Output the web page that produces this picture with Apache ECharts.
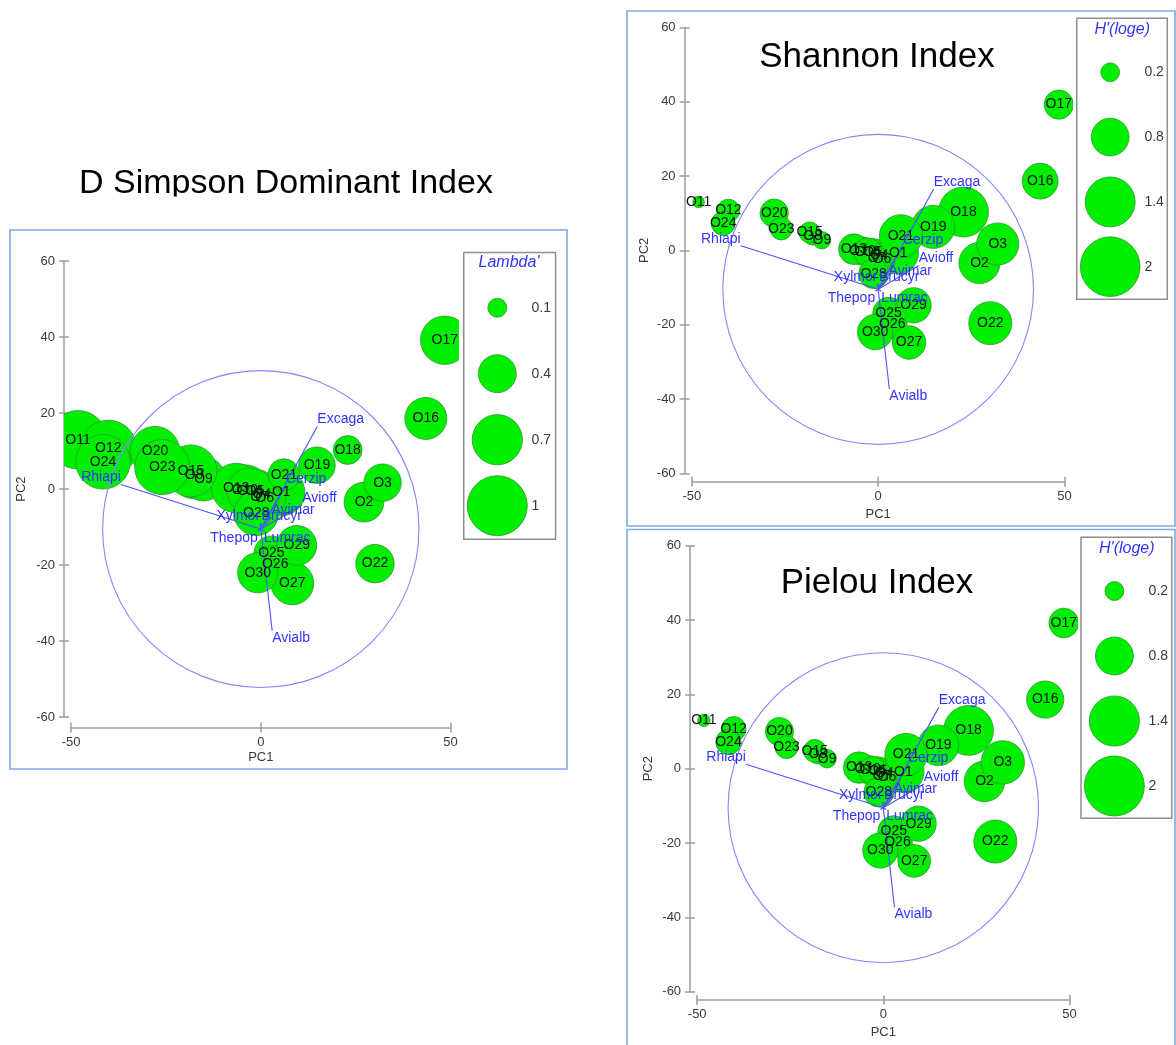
<!DOCTYPE html>
<html>
<head>
<meta charset="utf-8">
<script src="https://cdn.jsdelivr.net/npm/echarts@6/dist/echarts.min.js"></script>
<style>
  html, body { margin: 0; padding: 0; background: #ffffff; }
  #chart { width: 1176px; height: 1045px; }
</style>
</head>
<body>
<div id="chart"></div>
<script>
// ---- PCA sample scores (PC1, PC2) ----
const sampleNames = ['O1','O2','O3','O4','O5','O6','O7','O8','O9','O10',
                     'O11','O12','O13','O14','O15','O16','O17','O18','O19','O20',
                     'O21','O22','O23','O24','O25','O26','O27','O28','O29','O30'];
const pc1 = [5.4, 27.2, 32.1, 0.3, -1.5, 1.0, -0.3, -17.6, -15.1, -4.2,
             -48.2, -40.2, -6.5, -2.8, -18.4, 43.5, 48.5, 22.9, 14.8, -27.9,
             6.1, 30.1, -26.0, -41.6, 2.8, 3.8, 8.3, -1.2, 9.5, -0.8];
const pc2 = [-0.8, -3.4, 1.7, -1.2, -0.6, -2.4, -2.0, 3.8, 2.7, -0.2,
             13.0, 10.7, 0.3, -0.5, 4.8, 18.6, 39.2, 10.3, 6.3, 10.0,
             3.8, -19.6, 5.8, 7.2, -16.9, -19.8, -24.8, -6.3, -14.8, -22.0];

// ---- diversity indices per sample ----
const simpsonLambda = [0.62, 0.44, 0.39, 0.50, 0.55, 0.50, 0.45, 0.64, 0.54, 0.70,
                       0.95, 0.89, 0.68, 0.60, 0.75, 0.49, 0.65, 0.23, 0.37, 0.68,
                       0.28, 0.41, 0.84, 0.83, 0.34, 0.38, 0.51, 0.56, 0.44, 0.45];
const shannonH = [0.92, 0.95, 1.00, 0.50, 0.45, 0.40, 0.50, 0.18, 0.17, 0.45,
                  0.076, 0.29, 0.53, 0.45, 0.25, 0.72, 0.48, 1.40, 1.04, 0.45,
                  1.04, 1.04, 0.28, 0.32, 0.56, 0.50, 0.63, 0.50, 0.70, 0.70];
const pielouJ = [0.95, 0.92, 1.05, 0.50, 0.45, 0.40, 0.50, 0.20, 0.19, 0.45,
                 0.085, 0.34, 0.55, 0.45, 0.29, 0.77, 0.49, 1.38, 0.92, 0.44,
                 1.00, 1.03, 0.29, 0.36, 0.56, 0.50, 0.60, 0.50, 0.69, 0.69];

// ---- species vectors (end points) ----
const speciesNames = ['Rhiapi','Excaga','Avialb','Cerzip','Avioff','Avimar','Xylmor','Brucyr','Thepop','Lumrac'];
const speciesEndX = [-36.9, 14.9, 3.0, 6.6, 10.9, 2.8, -0.2, 0.2, -0.8, 0.8];
const speciesEndY = [1.2, 16.5, -37.3, 0.9, -4.1, -7.4, -9.0, -9.0, -11.0, -11.0];
const vectorOrigin = [0, -10.5];
const circleRadius = 41.7;

// ---- axis ticks ----
const xTickMin = -50, xTickMax = 50, xTickStep = 50;
const yTickMin = -60, yTickMax = 60, yTickStep = 20;

// ---- bubble legends ----
const simpsonLegend = [0.1, 0.4, 0.7, 1];
const diversityLegend = [0.2, 0.8, 1.4, 2];

const FONT = '"Liberation Sans", Arial, Helvetica, sans-serif';
const AXIS_GREY = '#9d9d9d';
const TEXT_GREY = '#3a3a3a';
const BLUE_TEXT = '#3333ff';

const panels = [
  { title: 'D Simpson Dominant Index', titleX: 286, titleY: 184, titleSize: 34,
    values: simpsonLambda, legendTitle: "Lambda'", legendValues: simpsonLegend, k: 30,
    X0: 260.8, Y0: 489.15, U: 3.793, V: 3.80, offY: 7.1, offX: 10.4, nameGapX: 23, nameGapY: 36,
    box: [10, 230, 557, 539],
    legendBox: [463.7, 252.5, 91.9, 286.8], legendTitleX: 509, legendTitleY: 263,
    legendBubbleX: 497.3, legendLabelX: 531.6, legendRow0: 307.7, legendStep: 66 },
  { title: 'Shannon Index', titleX: 877, titleY: 57, titleSize: 35,
    values: shannonH, legendTitle: "H'(loge)", legendValues: diversityLegend, k: 21.1,
    X0: 878.15, Y0: 250.3, U: 3.725, V: 3.717, offY: 7.3, offX: 8.4, nameGapX: 26, nameGapY: 34,
    box: [627, 11, 548, 515],
    legendBox: [1076.8, 18.3, 90.5, 281], legendTitleX: 1122.2, legendTitleY: 29.5,
    legendBubbleX: 1110.2, legendLabelX: 1144.4, legendRow0: 72.3, legendStep: 64.8 },
  { title: 'Pielou Index', titleX: 877, titleY: 583, titleSize: 35,
    values: pielouJ, legendTitle: "H'(loge)", legendValues: diversityLegend, k: 21.2,
    X0: 883.3, Y0: 768.7, U: 3.722, V: 3.717, offY: 7.1, offX: 8.3, nameGapX: 26, nameGapY: 35,
    box: [627, 529.5, 548, 520],
    legendBox: [1081, 537.3, 90.8, 281], legendTitleX: 1126.8, legendTitleY: 548.5,
    legendBubbleX: 1114.4, legendLabelX: 1148.6, legendRow0: 591, legendStep: 65 }
];

const grid = [], xAxis = [], yAxis = [], series = [], graphics = [];

function textStyle(text, font, fill, align, vAlign) {
  return { text: text, font: font, fill: fill,
           align: align, verticalAlign: vAlign,
           textAlign: align, textVerticalAlign: vAlign };
}

panels.forEach(function (p, pi) {
  const xr = 50 + p.offY / p.U;   // data-grid half width (to the y axis line)
  const yr = 60 + p.offX / p.V;   // data-grid half height (to the x axis line)
  const g = grid.length;

  // plotting area (clip region), tick area, legend area
  grid.push({ left: p.X0 - xr * p.U, top: p.Y0 - yr * p.V, width: 2 * xr * p.U, height: 2 * yr * p.V });
  grid.push({ left: p.X0 - 50 * p.U, top: p.Y0 - 60 * p.V, width: 100 * p.U, height: 120 * p.V });
  grid.push({ left: p.legendBubbleX, top: p.legendRow0 - p.legendStep / 2,
              width: p.legendLabelX - p.legendBubbleX, height: p.legendStep * p.legendValues.length });

  const ax = xAxis.length, ay = yAxis.length;
  const lineStyle = { color: AXIS_GREY, width: 1.5 };
  const labelStyle = { color: TEXT_GREY, fontSize: 13, fontFamily: FONT };

  // data axes (hidden)
  xAxis.push({ gridIndex: g, type: 'value', min: -xr, max: xr, show: false });
  yAxis.push({ gridIndex: g, type: 'value', min: -yr, max: yr, show: false });

  // visible axes
  xAxis.push({ gridIndex: g + 1, type: 'value', min: xTickMin, max: xTickMax, interval: xTickStep,
    position: 'bottom', offset: p.offX,
    axisLine: { show: true, onZero: false, lineStyle: lineStyle },
    axisTick: { show: true, length: 5, lineStyle: lineStyle },
    axisLabel: Object.assign({ margin: 8 }, labelStyle),
    splitLine: { show: false },
    name: 'PC1', nameLocation: 'middle', nameGap: p.nameGapX,
    nameTextStyle: { color: TEXT_GREY, fontSize: 13, fontFamily: FONT } });
  yAxis.push({ gridIndex: g + 1, type: 'value', min: yTickMin, max: yTickMax, interval: yTickStep,
    position: 'left', offset: p.offY,
    axisLine: { show: true, onZero: false, lineStyle: lineStyle },
    axisTick: { show: true, length: 5, lineStyle: lineStyle },
    axisLabel: Object.assign({ margin: 9 }, labelStyle),
    splitLine: { show: false },
    name: 'PC2', nameLocation: 'middle', nameGap: p.nameGapY, nameRotate: 90,
    nameTextStyle: { color: TEXT_GREY, fontSize: 13, fontFamily: FONT } });

  // inward half of the crossing ticks
  xAxis.push({ gridIndex: g + 1, type: 'value', min: xTickMin, max: xTickMax, interval: xTickStep,
    position: 'bottom', offset: p.offX,
    axisLine: { show: false, onZero: false },
    axisTick: { show: true, inside: true, length: 5, lineStyle: lineStyle },
    axisLabel: { show: false }, splitLine: { show: false } });
  yAxis.push({ gridIndex: g + 1, type: 'value', min: yTickMin, max: yTickMax, interval: yTickStep,
    position: 'left', offset: p.offY,
    axisLine: { show: false, onZero: false },
    axisTick: { show: true, inside: true, length: 5, lineStyle: lineStyle },
    axisLabel: { show: false }, splitLine: { show: false } });

  // legend axes (value labels drawn on top of the legend frame)
  xAxis.push({ gridIndex: g + 2, type: 'value', min: 0, max: 1, show: false });
  yAxis.push({ gridIndex: g + 2, type: 'category', inverse: true, position: 'right', z: 15,
    data: p.legendValues.map(String),
    axisLine: { show: false }, axisTick: { show: false }, splitLine: { show: false },
    axisLabel: { margin: 0, align: 'left', color: TEXT_GREY, fontSize: 14, fontFamily: FONT } });

  const k = p.k;

  // sample bubbles
  series.push({
    type: 'custom', xAxisIndex: ax, yAxisIndex: ay, clip: true, z: 2,
    data: sampleNames.map(function (n, i) { return [pc1[i], pc2[i], p.values[i]]; }),
    renderItem: function (params, api) {
      const c = api.coord([api.value(0), api.value(1)]);
      return { type: 'circle',
        shape: { cx: c[0], cy: c[1], r: k * Math.sqrt(api.value(2)) },
        style: { fill: '#00ee00', stroke: '#2c9a2c', lineWidth: 0.8 } };
    }
  });

  // correlation circle
  series.push({
    type: 'custom', xAxisIndex: ax, yAxisIndex: ay, z: 3, silent: true,
    data: [[vectorOrigin[0], vectorOrigin[1], circleRadius]],
    renderItem: function (params, api) {
      const c = api.coord([api.value(0), api.value(1)]);
      const s = api.size([api.value(2), api.value(2)]);
      return { type: 'circle', x: c[0], y: c[1], scaleX: 1, scaleY: s[1] / s[0],
        shape: { cx: 0, cy: 0, r: s[0] },
        style: { fill: 'none', stroke: '#8585ff', lineWidth: 1.1, strokeNoScale: true } };
    }
  });

  // species vectors
  series.push({
    type: 'custom', xAxisIndex: ax, yAxisIndex: ay, z: 4, silent: true,
    data: speciesNames.map(function (n, i) { return [speciesEndX[i], speciesEndY[i]]; }),
    renderItem: function (params, api) {
      const o = api.coord(vectorOrigin);
      const e = api.coord([api.value(0), api.value(1)]);
      return { type: 'line', shape: { x1: o[0], y1: o[1], x2: e[0], y2: e[1] },
        style: { stroke: '#5050ff', lineWidth: 1.1 } };
    }
  });

  // sample labels
  series.push({
    type: 'custom', xAxisIndex: ax, yAxisIndex: ay, z: 5, silent: true,
    data: sampleNames.map(function (n, i) { return [pc1[i], pc2[i], n]; }),
    renderItem: function (params, api) {
      const c = api.coord([api.value(0), api.value(1)]);
      return { type: 'text', x: c[0], y: c[1],
        style: textStyle(sampleNames[params.dataIndex], '14px ' + FONT, '#111111', 'center', 'middle') };
    }
  });

  // species labels, placed on the outer side of each vector end
  series.push({
    type: 'custom', xAxisIndex: ax, yAxisIndex: ay, z: 6, silent: true,
    data: speciesNames.map(function (n, i) { return [speciesEndX[i], speciesEndY[i]]; }),
    renderItem: function (params, api) {
      const x = api.value(0), y = api.value(1);
      const e = api.coord([x, y]);
      const align = (x - vectorOrigin[0]) >= 0 ? 'left' : 'right';
      const vAlign = (y - vectorOrigin[1]) >= 0 ? 'bottom' : 'top';
      return { type: 'text', x: e[0], y: e[1],
        style: textStyle(speciesNames[params.dataIndex], '14px ' + FONT, BLUE_TEXT, align, vAlign) };
    }
  });

  // legend bubbles
  series.push({
    type: 'custom', xAxisIndex: ax + 3, yAxisIndex: ay + 3, z: 12, silent: true,
    data: p.legendValues.map(function (v, i) { return [0, i, v]; }),
    renderItem: function (params, api) {
      const c = api.coord([api.value(0), api.value(1)]);
      return { type: 'circle',
        shape: { cx: c[0], cy: c[1], r: k * Math.sqrt(api.value(2)) },
        style: { fill: '#00ee00', stroke: '#2c9a2c', lineWidth: 0.8 } };
    }
  });

  // panel frame
  graphics.push({ type: 'rect', z: 1, silent: true,
    shape: { x: p.box[0], y: p.box[1], width: p.box[2], height: p.box[3] },
    style: { fill: 'none', stroke: '#7eabe2', lineWidth: 1.6 } });
  // legend frame
  graphics.push({ type: 'rect', z: 10, silent: true,
    shape: { x: p.legendBox[0], y: p.legendBox[1], width: p.legendBox[2], height: p.legendBox[3] },
    style: { fill: '#ffffff', stroke: '#8e8e8e', lineWidth: 1.5 } });
  graphics.push({ type: 'text', z: 13, silent: true, x: p.legendTitleX, y: p.legendTitleY,
    style: textStyle(p.legendTitle, 'italic 16px ' + FONT, BLUE_TEXT, 'center', 'middle') });
  // panel title
  graphics.push({ type: 'text', z: 10, silent: true, x: p.titleX, y: p.titleY,
    style: textStyle(p.title, p.titleSize + 'px ' + FONT, '#000000', 'center', 'middle') });
});

// the left title sits in a band that ends just above its panel
graphics.push({ type: 'rect', z: 11, silent: true,
  shape: { x: 40, y: 196.5, width: 500, height: 32 },
  style: { fill: '#ffffff' } });

const chart = echarts.init(document.getElementById('chart'), null, { renderer: 'canvas' });
chart.setOption({
  animation: false,
  backgroundColor: '#ffffff',
  textStyle: { fontFamily: FONT },
  grid: grid,
  xAxis: xAxis,
  yAxis: yAxis,
  series: series,
  graphic: { elements: graphics }
});
</script>
</body>
</html>
